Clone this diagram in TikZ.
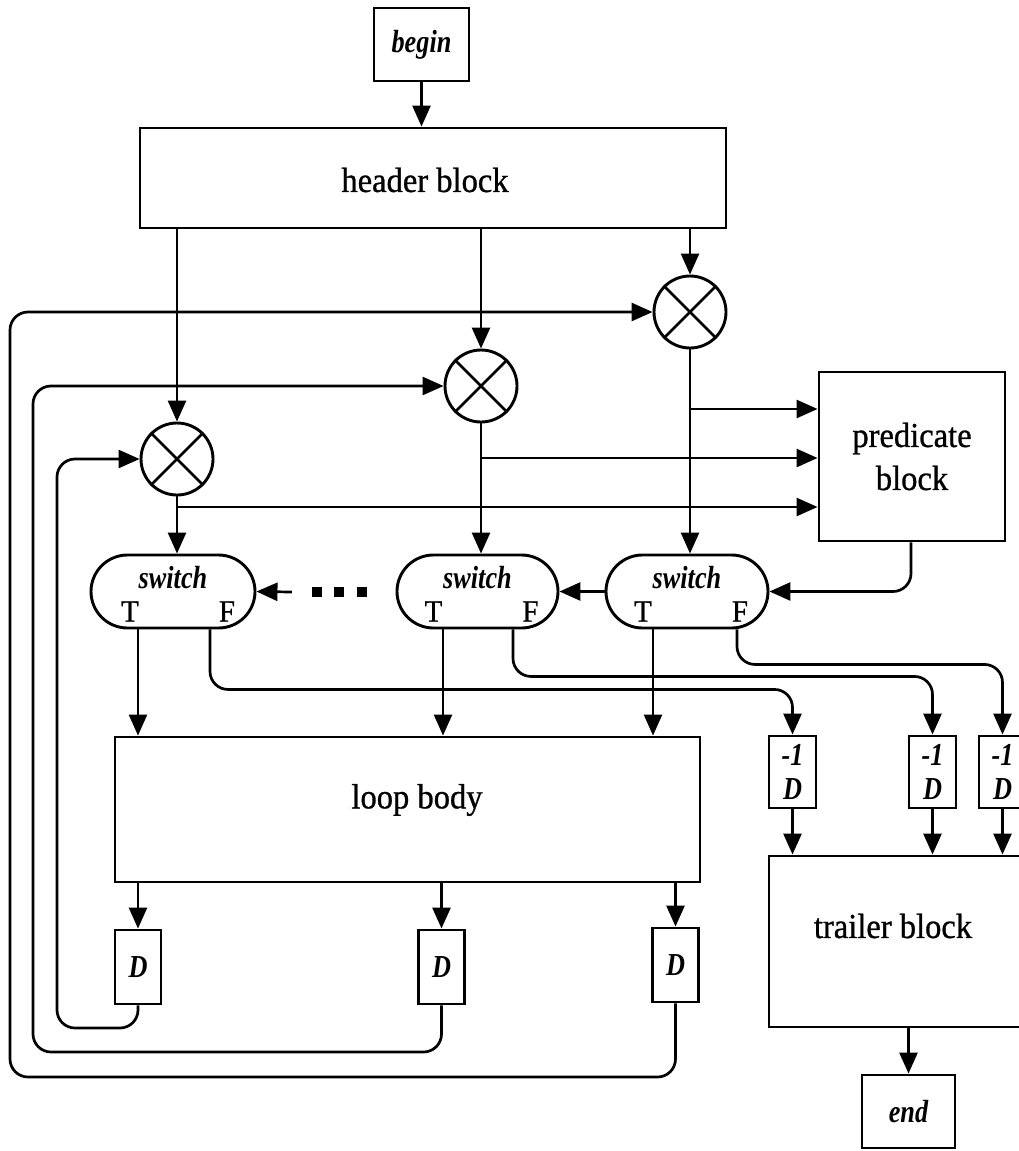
\documentclass[tikz,border=0pt]{standalone}
\usepackage{fontspec}
\setmainfont{Liberation Serif}
\newfontfamily\labfont[FakeStretch=0.93,FakeBold=0.8]{Liberation Serif}
\newfontfamily\itfont[FakeStretch=0.82]{Liberation Serif}
\usetikzlibrary{arrows.meta,calc}
\tikzset{
  myline/.style={line width=2.7pt},
  arr/.style={myline,-{Triangle[length=21pt,width=18pt]}},
  blk/.style={draw,rectangle,line width=2.9pt,inner sep=0pt,align=center,font=\labfont\fontsize{35}{43}\selectfont},
  ital/.style={font=\itfont\bfseries\itshape\fontsize{32}{34}\selectfont},
  smallbox/.style={draw,rectangle,line width=2.9pt,inner sep=0pt,align=center,ital},
  mrg/.style={draw,circle,line width=2.9pt,minimum size=72pt,inner sep=0pt},
  swt/.style={draw,rectangle,rounded corners=36.5pt,line width=2.9pt,minimum height=73pt,inner sep=0pt},
  tf/.style={font=\labfont\fontsize{31}{33}\selectfont,inner sep=0pt},
  big/.style={font=\labfont\fontsize{35}{43}\selectfont,inner sep=0pt},
  dot/.style={fill=black,minimum size=10pt,inner sep=0pt},
  rc/.style={rounded corners=18pt},
}
\begin{document}
\begin{tikzpicture}[x=1pt,y=-1pt]
\clip (0,0) rectangle (1019,1151);
\fill[white] (0,0) rectangle (1019,1151);

% boxes
\node[smallbox,minimum width=95pt,minimum height=73pt] (begin) at (421.5,44.5) {begin};
\node[blk,minimum width=586pt,minimum height=100pt] (header) at (433,178) {};
\node[big] (headlbl) at (425,180) {header block};
\node[blk,minimum width=186pt,minimum height=169pt] (pred) at (912,456.5) {predicate\\block};
\node[blk,minimum width=585pt,minimum height=145pt] (loop) at (407.5,809.5) {};
\node[big] (looplbl) at (417,800) {loop body};
\node[blk,minimum width=271pt,minimum height=171pt] (trailer) at (904.5,941.5) {};
\node[big] (traillbl) at (893,926) {trailer block};
\node[smallbox,minimum width=93pt,minimum height=73pt] (end) at (908.5,1111.5) {end};

% merge nodes
\node[mrg] (M1) at (177,459) {};
\node[mrg] (M2) at (481,386) {};
\node[mrg] (M3) at (690,312) {};
\foreach \m in {M1,M2,M3}{
  \draw[myline] (\m.45) -- (\m.225) (\m.135) -- (\m.315);
}

% switches
\node[swt,minimum width=164pt] (s1) at (173,591.5) {};
\node[swt,minimum width=161pt] (s2) at (477.5,591.5) {};
\node[swt,minimum width=162pt] (s3) at (687,591.5) {};
\foreach \s/\tx/\fx in {s1/-43/54, s2/-44/53, s3/-44/53}{
  \node[ital,inner sep=0pt] (\s w) at ($(\s)+(0,-14)$) {switch};
  \node[tf] (\s T) at ($(\s)+(\tx,20)$) {T};
  \node[tf] (\s F) at ($(\s)+(\fx,20)$) {F};
}

% dots
\node[dot] (dt1) at (317,592) {};
\node[dot] (dt2) at (339,592) {};
\node[dot] (dt3) at (362,592) {};

% delay boxes
\node[smallbox,minimum width=46pt,minimum height=74pt] (D1) at (138,967) {D};
\node[smallbox,minimum width=46pt,minimum height=74pt] (D2) at (441.5,967) {D};
\node[smallbox,minimum width=46pt,minimum height=74pt] (D3) at (675.5,965) {D};
\node[smallbox,minimum width=47pt,minimum height=72pt] (I1) at (792.5,772) {-1\\D};
\node[smallbox,minimum width=47pt,minimum height=72pt] (I2) at (932.5,772) {-1\\D};
\node[smallbox,minimum width=47pt,minimum height=72pt] (I3) at (1002.5,772) {-1\\D};

% connectors
\draw[arr] (begin.south) -- (begin.south |- header.north);
\draw[arr] (header.south -| M1) -- (M1.north);
\draw[arr] (header.south -| M2) -- (M2.north);
\draw[arr] (header.south -| M3) -- (M3.north);

\draw[arr] (M1.south) -- (M1.south |- s1.north);
\draw[arr] (M2.south) -- (M2.south |- s2.north);
\draw[arr] (M3.south) -- (M3.south |- s3.north);

\coordinate (b1) at (177,507);
\coordinate (b2) at (481,458);
\coordinate (b3) at (690,409);
\draw[arr] (b1) -- (b1 -| pred.west);
\draw[arr] (b2) -- (b2 -| pred.west);
\draw[arr] (b3) -- (b3 -| pred.west);

\draw[arr,rc] ([xshift=-1pt]pred.south) |- (s3.east);
\draw[arr] (s3.west) -- (s2.east);
\draw[arr] ([xshift=-20pt]dt1.west) -- (s1.east);

% T outputs
\draw[arr] ([xshift=-35pt]s1.south) -- ([xshift=-35pt]s1.south |- loop.north);
\draw[arr] ([xshift=-34.5pt]s2.south) -- ([xshift=-34.5pt]s2.south |- loop.north);
\draw[arr] ([xshift=-34pt]s3.south) -- ([xshift=-34pt]s3.south |- loop.north);

% F outputs
\draw[arr,rc] ([xshift=37pt]s1.south) -- ++(0,60) -| (I1.north);
\draw[arr,rc] ([xshift=35.5pt]s2.south) -- ++(0,47) -| (I2.north);
\draw[arr,rc] ([xshift=50pt]s3.south) -- ++(0,35) -| (I3.north);

\draw[arr] (I1.south) -- (I1.south |- trailer.north);
\draw[arr] (I2.south) -- (I2.south |- trailer.north);
\draw[arr] (I3.south) -- (I3.south |- trailer.north);
\draw[arr] (trailer.south -| end) -- (end.north);

% loop body to delays
\draw[arr] (D1.north |- loop.south) -- (D1.north);
\draw[arr] (D2.north |- loop.south) -- (D2.north);
\draw[arr] (D3.north |- loop.south) -- (D3.north);

% feedback loops
\coordinate (l1) at (57,1028);
\coordinate (l2) at (33,1052);
\coordinate (l3) at (10,1077);
\draw[arr,rc] (D1.south) |- (l1) |- (M1.west);
\draw[arr,rc] (D2.south) |- (l2) |- (M2.west);
\draw[arr,rc] (D3.south) |- (l3) |- (M3.west);
\end{tikzpicture}
\end{document}
